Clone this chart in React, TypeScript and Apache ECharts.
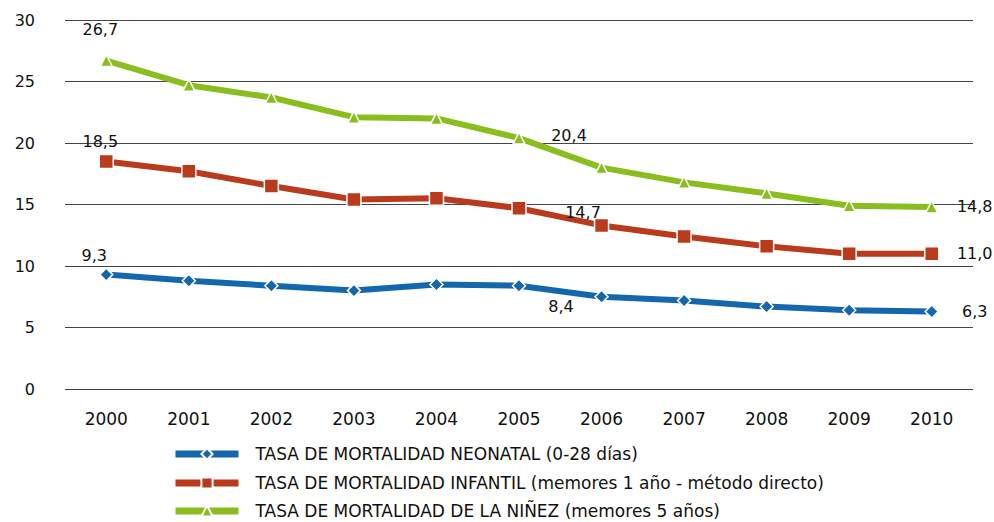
import React, { useEffect, useRef } from "react";
import * as echarts from "echarts";

const years = ["2000", "2001", "2002", "2003", "2004", "2005", "2006", "2007", "2008", "2009", "2010"];
const neonatal = [9.3, 8.8, 8.4, 8.0, 8.5, 8.4, 7.5, 7.2, 6.7, 6.4, 6.3];
const infantil = [18.5, 17.7, 16.5, 15.4, 15.5, 14.7, 13.3, 12.4, 11.6, 11.0, 11.0];
const ninez = [26.7, 24.7, 23.7, 22.1, 22.0, 20.4, 18.0, 16.8, 15.9, 14.9, 14.8];
const seriesNames = [
  "TASA DE MORTALIDAD NEONATAL (0-28 días)",
  "TASA DE MORTALIDAD INFANTIL (memores 1 año - método directo)",
  "TASA DE MORTALIDAD DE LA NIÑEZ (memores 5 años)",
];

const FONT = "DejaVu Sans, Verdana, sans-serif";
const fmt = (v: number) => v.toFixed(1).replace(".", ",");

type LabelSpec = { idx: number; offset: [number, number] };

function buildData(values: number[], labels: LabelSpec[]) {
  return values.map((v, i) => {
    const spec = labels.find((l) => l.idx === i);
    if (!spec) return v;
    return {
      value: v,
      label: {
        show: true,
        position: "inside",
        offset: spec.offset,
        formatter: () => fmt(v),
        color: "#111",
        fontSize: 16,
        fontFamily: FONT,
      },
    };
  });
}

export default function App() {
  const ref = useRef<HTMLDivElement>(null);
  useEffect(() => {
    if (!ref.current) return;
    const chart = echarts.init(ref.current, undefined, { renderer: "svg" });
    const common = {
      type: "line",
      lineStyle: { width: 6 },
      itemStyle: { borderColor: "#fff", borderWidth: 1.5 },
      z: 3,
    };
    const legendRows = [454, 483, 511];
    chart.setOption({
      animation: false,
      backgroundColor: "#fff",
      grid: { left: 65, right: 21, top: 20, bottom: 133 },
      xAxis: {
        type: "category",
        data: years,
        boundaryGap: true,
        axisLine: { show: false },
        axisTick: { show: false },
        axisLabel: { color: "#111", fontSize: 17, fontFamily: FONT, margin: 21 },
      },
      yAxis: {
        type: "value",
        min: 0,
        max: 30,
        interval: 5,
        axisLabel: { color: "#111", fontSize: 16, fontFamily: FONT, margin: 30 },
        splitLine: { lineStyle: { color: "#444", width: 1 } },
      },
      legend: seriesNames.map((name, i) => ({
        left: 172,
        top: legendRows[i] - 9,
        padding: 0,
        itemWidth: 63,
        itemHeight: 14,
        lineStyle: { width: 7 },
        textStyle: {
          color: "#111",
          fontSize: 17,
          lineHeight: 18,
          fontFamily: FONT,
          padding: [0, 0, 0, 12],
        },
        data: [name],
      })),
      series: [
        {
          ...common,
          name: seriesNames[0],
          data: buildData(neonatal, [
            { idx: 0, offset: [-12, -19] },
            { idx: 5, offset: [42, 21] },
            { idx: 10, offset: [43, 0] },
          ]),
          color: "#1467ad",
          symbol: "diamond",
          symbolSize: 13,
        },
        {
          ...common,
          name: seriesNames[1],
          data: buildData(infantil, [
            { idx: 0, offset: [-6, -20] },
            { idx: 5, offset: [64, 4] },
            { idx: 10, offset: [43, 0] },
          ]),
          color: "#b93b1c",
          symbol: "rect",
          symbolSize: 14,
        },
        {
          ...common,
          name: seriesNames[2],
          data: buildData(ninez, [
            { idx: 0, offset: [-6, -31] },
            { idx: 5, offset: [50, -3] },
            { idx: 10, offset: [43, 0] },
          ]),
          color: "#8abd1e",
          symbol: "triangle",
          symbolSize: 12,
        },
      ],
    });
    return () => chart.dispose();
  }, []);
  return (
    <div
      ref={ref}
      style={{ position: "fixed", left: 0, top: 0, width: 994, height: 522 }}
    />
  );
}
